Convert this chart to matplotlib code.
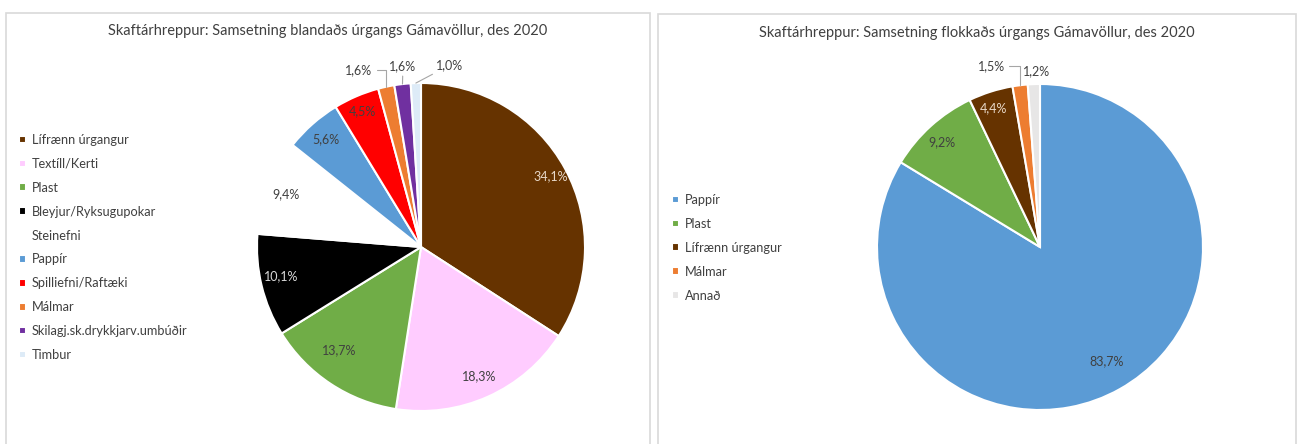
import numpy as np
import matplotlib.pyplot as plt
from matplotlib.patches import Rectangle

plt.rcParams['font.family'] = ['Lato', 'DejaVu Sans']

# left chart: mixed waste
left_title = "Skaftárhreppur: Samsetning blandaðs úrgangs Gámavöllur, des 2020"
left_cats = ["Lífrænn úrgangur", "Textíll/Kerti", "Plast", "Bleyjur/Ryksugupokar",
             "Steinefni", "Pappír", "Spilliefni/Raftæki", "Málmar",
             "Skilagj.sk.drykkjarv.umbúðir", "Timbur"]
left_vals = [34.1, 18.3, 13.7, 10.1, 9.4, 5.6, 4.5, 1.6, 1.6, 1.0]
left_cols = ["#663300", "#FFCCFF", "#70AD47", "#000000", "#FFFFFF",
             "#5B9BD5", "#FF0000", "#ED7D31", "#7030A0", "#DDEBF7"]

# right chart: sorted waste
right_title = "Skaftárhreppur: Samsetning flokkaðs úrgangs Gámavöllur, des 2020"
right_cats = ["Pappír", "Plast", "Lífrænn úrgangur", "Málmar", "Annað"]
right_vals = [83.7, 9.2, 4.4, 1.5, 1.2]
right_cols = ["#5B9BD5", "#70AD47", "#663300", "#ED7D31", "#E7E6E6"]

W, H = 1298, 444
fig = plt.figure(figsize=(W / 100, H / 100), dpi=100)

def px_axes(cx, cy, r):
    return fig.add_axes([(cx - r) / W, (H - cy - r) / H, 2 * r / W, 2 * r / H])

def fmt(v):
    return ("%.1f%%" % v).replace(".", ",")

# panel borders (bottom edge is cut off)
for x0, x1, y0 in [(6, 650, 13), (658, 1296, 14)]:
    fig.add_artist(Rectangle((x0 / W, -0.05), (x1 - x0) / W, (H - y0) / H + 0.05,
                             transform=fig.transFigure, fill=False,
                             edgecolor="#D9D9D9", lw=1.2))

txt = "#404040"

def draw_pie(ax, vals, cols, inside, outside):
    wedges, _ = ax.pie(vals, colors=cols, startangle=90, counterclock=False,
                       radius=1, wedgeprops=dict(edgecolor="white", linewidth=1.5))
    ax.set_xlim(-1, 1)
    ax.set_ylim(-1, 1)
    for i, w in enumerate(wedges):
        mid = np.deg2rad((w.theta1 + w.theta2) / 2)
        if i in inside:
            rr, dang, c = inside[i]
            a = mid + np.deg2rad(dang)
            ax.text(rr * np.cos(a), rr * np.sin(a), fmt(vals[i]), ha="center",
                    va="center", fontsize=9, color=c, zorder=5)
        elif i in outside:
            (tx, ty), conn = outside[i]
            if conn:
                ax.annotate(fmt(vals[i]), xy=(np.cos(mid), np.sin(mid)), xytext=(tx, ty),
                            ha="center", va="center", fontsize=9, color=txt,
                            annotation_clip=False,
                            arrowprops=dict(arrowstyle="-", color="#A6A6A6", lw=0.8,
                                            shrinkA=1, shrinkB=0, connectionstyle=conn))
            else:
                ax.text(tx, ty, fmt(vals[i]), ha="center", va="center",
                        fontsize=9, color=txt, clip_on=False)
    return wedges

# left pie
axl = px_axes(421, 247, 164)
inside_l = {0: (0.90, 0, "#E8D8C8"), 1: (0.86, 0, txt), 2: (0.80, -5, txt),
            3: (0.87, -2, "#D9D9D9"), 4: (0.885, 0, txt), 5: (0.875, 0, txt),
            6: (0.90, 0, txt)}
outside_l = {7: ((-0.378, 1.079), "angle,angleA=0,angleB=90,rad=0"),
             8: ((-0.11, 1.104), "arc3"),
             9: ((0.177, 1.11), "arc3")}
wl = draw_pie(axl, left_vals, left_cols, inside_l, outside_l)

# right pie
axr = px_axes(1040, 247, 163)
inside_r = {0: (0.81, 1, txt), 1: (0.88, 1, txt), 2: (0.90, 1, "#E8D8C8")}
outside_r = {3: ((-0.30, 1.11), "angle,angleA=0,angleB=90,rad=0"),
             4: ((-0.02, 1.08), None)}
wr = draw_pie(axr, right_vals, right_cols, inside_r, outside_r)

fig.text(328 / W, 1 - 31 / H, left_title, ha="center", va="center", fontsize=10.5, color=txt)
fig.text(977 / W, 1 - 33 / H, right_title, ha="center", va="center", fontsize=10.5, color=txt)

def legend(wedges, cats, x, y):
    fig.legend(wedges, cats, loc="upper left", bbox_to_anchor=(x / W, 1 - y / H),
               frameon=False, fontsize=9.2, handlelength=0.55, handleheight=0.55,
               handletextpad=0.45, labelspacing=0.93, borderaxespad=0, borderpad=0,
               labelcolor=txt)

legend(wl, left_cats, 19, 134)
legend(wr, right_cats, 672, 194)

fig.savefig("out.png", dpi=100)
